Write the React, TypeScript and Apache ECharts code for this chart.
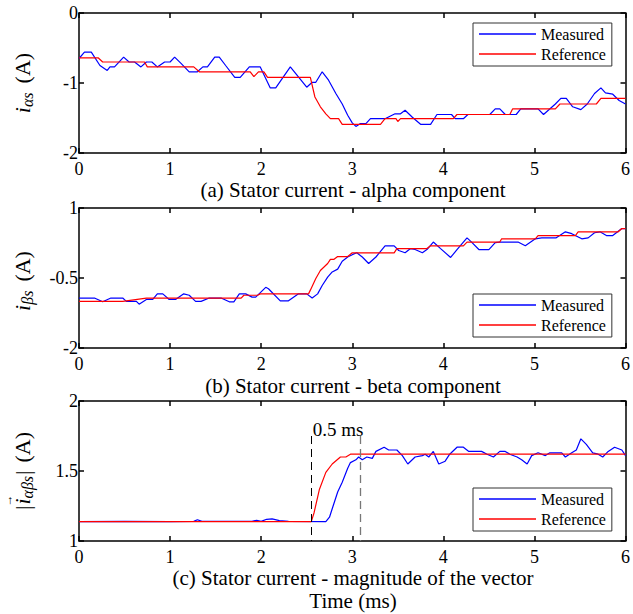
import React, { useEffect, useRef } from "react";
import * as echarts from "echarts";

const FAM = "Liberation Serif";
const FONT = "'Liberation Serif', 'DejaVu Serif', serif";

const xTicks = [0, 1, 2, 3, 4, 5, 6];
const yTicksA = [-2, -1, 0];
const yTicksB = [-2, -0.5, 1];
const yTicksC = [1, 1.5, 2];

const titleA = "(a) Stator current - alpha component";
const titleB = "(b) Stator current - beta component";
const titleC = "(c) Stator current - magnitude of the vector";
const xAxisTitle = "Time (ms)";
const legendNames = ["Measured", "Reference"];
const delayText = "0.5 ms";
const delayStart = 2.55;
const delayEnd = 3.09;
const delayTop = 1.75;

const alphaMeasured: [number, number][] = [
  [0, -0.65], [0.06, -0.56], [0.135, -0.56], [0.23, -0.75], [0.31, -0.82], [0.34, -0.77], [0.39, -0.77],
  [0.49, -0.63], [0.55, -0.7], [0.61, -0.7], [0.68, -0.77], [0.74, -0.7], [0.8, -0.7], [0.86, -0.77],
  [0.94, -0.7], [1.0, -0.7], [1.05, -0.63], [1.12, -0.72], [1.21, -0.84], [1.3, -0.84], [1.36, -0.77],
  [1.41, -0.77], [1.49, -0.63], [1.54, -0.63], [1.61, -0.75], [1.71, -0.92], [1.77, -0.92], [1.87, -0.77],
  [1.99, -0.77], [2.1, -1.07], [2.16, -1.07], [2.32, -0.77], [2.5, -1.06], [2.56, -0.99], [2.6, -0.99],
  [2.67, -0.84], [2.74, -0.96], [2.82, -1.15], [2.89, -1.3], [2.95, -1.46], [3.0, -1.57], [3.04, -1.62],
  [3.09, -1.58], [3.15, -1.58], [3.2, -1.51], [3.36, -1.51], [3.47, -1.44], [3.53, -1.44], [3.58, -1.39],
  [3.66, -1.49], [3.75, -1.59], [3.86, -1.59], [3.93, -1.45], [4.09, -1.45], [4.13, -1.51], [4.22, -1.51],
  [4.27, -1.45], [4.51, -1.45], [4.57, -1.37], [4.62, -1.37], [4.68, -1.45], [4.8, -1.45], [4.85, -1.37],
  [5.04, -1.37], [5.1, -1.45], [5.23, -1.3], [5.29, -1.22], [5.35, -1.22], [5.42, -1.34], [5.51, -1.38],
  [5.58, -1.3], [5.66, -1.15], [5.73, -1.07], [5.78, -1.14], [5.86, -1.16], [5.93, -1.25], [6.0, -1.3],
];

const alphaReference: [number, number][] = [
  [0, -0.64], [0.21, -0.64], [0.26, -0.7], [0.72, -0.7], [0.75, -0.77], [1.26, -0.77], [1.32, -0.84],
  [1.88, -0.84], [1.92, -0.91], [1.97, -0.84], [2.03, -0.84], [2.07, -0.92], [2.54, -0.92], [2.59, -1.2],
  [2.65, -1.34], [2.71, -1.44], [2.76, -1.51], [2.85, -1.51], [2.89, -1.59], [3.31, -1.59], [3.36, -1.51],
  [3.48, -1.51], [3.5, -1.55], [3.53, -1.51], [4.11, -1.51], [4.15, -1.45], [4.73, -1.45], [4.76, -1.37],
  [5.23, -1.37], [5.28, -1.3], [5.68, -1.3], [5.73, -1.22], [6.0, -1.22],
];

const betaMeasured: [number, number][] = [
  [0, -0.93], [0.17, -0.93], [0.26, -1.01], [0.35, -0.93], [0.48, -0.93], [0.52, -1.0], [0.63, -1.0],
  [0.66, -1.06], [0.74, -0.96], [0.81, -0.96], [0.86, -0.84], [0.92, -0.84], [0.99, -0.96], [1.06, -0.96],
  [1.15, -0.84], [1.21, -0.87], [1.28, -1.0], [1.34, -1.0], [1.43, -0.93], [1.56, -0.93], [1.65, -1.01],
  [1.7, -1.01], [1.76, -0.84], [1.83, -0.84], [1.9, -0.91], [1.94, -0.91], [2.05, -0.7], [2.08, -0.73],
  [2.21, -0.99], [2.3, -0.99], [2.41, -0.84], [2.5, -0.84], [2.56, -0.93], [2.62, -0.84], [2.67, -0.66],
  [2.73, -0.48], [2.78, -0.37], [2.84, -0.31], [2.89, -0.14], [2.95, -0.05], [3.0, 0.0], [3.05, 0.04],
  [3.11, -0.05], [3.18, -0.19], [3.26, -0.05], [3.36, 0.19], [3.46, 0.19], [3.51, 0.09], [3.58, 0.04],
  [3.64, 0.13], [3.69, 0.11], [3.77, 0.04], [3.82, 0.11], [3.89, 0.27], [3.97, 0.13], [4.08, -0.06],
  [4.15, 0.11], [4.26, 0.36], [4.31, 0.27], [4.39, 0.11], [4.5, 0.11], [4.57, 0.26], [4.62, 0.27],
  [4.82, 0.27], [4.9, 0.19], [5.01, 0.34], [5.08, 0.36], [5.24, 0.36], [5.34, 0.49], [5.41, 0.45],
  [5.52, 0.34], [5.59, 0.36], [5.66, 0.47], [5.72, 0.49], [5.79, 0.41], [5.86, 0.41], [5.96, 0.56], [6.0, 0.56],
];

const betaReference: [number, number][] = [
  [0, -1.0], [0.48, -1.0], [0.74, -0.93], [1.78, -0.93], [1.81, -0.87], [1.96, -0.87], [1.99, -0.84],
  [2.52, -0.84], [2.54, -0.76], [2.6, -0.51], [2.65, -0.34], [2.73, -0.19], [2.76, -0.1], [2.8, -0.1],
  [2.84, -0.04], [2.95, -0.04], [3.0, 0.04], [3.46, 0.04], [3.49, 0.13], [3.82, 0.13], [3.86, 0.19],
  [4.22, 0.19], [4.26, 0.27], [4.62, 0.27], [4.64, 0.34], [5.01, 0.34], [5.04, 0.41], [5.45, 0.41],
  [5.48, 0.49], [5.92, 0.49], [5.96, 0.56], [6.0, 0.56],
];

const magMeasured: [number, number][] = [
  [0, 1.138], [0.5, 1.14], [1.0, 1.139], [1.26, 1.14], [1.3, 1.152], [1.35, 1.14], [1.9, 1.14],
  [1.95, 1.148], [2.0, 1.14], [2.06, 1.155], [2.12, 1.158], [2.2, 1.145], [2.3, 1.14], [2.71, 1.138],
  [2.75, 1.17], [2.78, 1.23], [2.84, 1.35], [2.89, 1.42], [2.95, 1.52], [2.98, 1.56], [3.04, 1.58],
  [3.07, 1.6], [3.11, 1.58], [3.16, 1.6], [3.22, 1.59], [3.26, 1.64], [3.35, 1.67], [3.4, 1.65],
  [3.49, 1.65], [3.55, 1.61], [3.61, 1.55], [3.69, 1.6], [3.77, 1.61], [3.8, 1.62], [3.84, 1.6],
  [3.89, 1.64], [3.95, 1.55], [4.02, 1.57], [4.07, 1.62], [4.15, 1.67], [4.22, 1.67], [4.28, 1.64],
  [4.42, 1.64], [4.48, 1.62], [4.55, 1.6], [4.62, 1.64], [4.68, 1.64], [4.73, 1.62], [4.81, 1.6],
  [4.86, 1.58], [4.92, 1.55], [4.97, 1.61], [5.04, 1.63], [5.12, 1.61], [5.17, 1.63], [5.25, 1.63],
  [5.3, 1.63], [5.34, 1.6], [5.41, 1.63], [5.46, 1.65], [5.51, 1.73], [5.57, 1.69], [5.64, 1.63],
  [5.7, 1.62], [5.75, 1.6], [5.81, 1.64], [5.88, 1.67], [5.96, 1.65], [6.0, 1.61],
];

const magReference: [number, number][] = [
  [0, 1.138], [2.55, 1.138], [2.58, 1.2], [2.64, 1.37], [2.71, 1.49], [2.78, 1.55], [2.87, 1.6],
  [2.93, 1.6], [2.98, 1.62], [6.0, 1.62],
];

const GRID_LEFT = 79;
const GRID_W = 548;
const GRID_H = 140;
const gridTops = [13, 208, 401];

type Piece = { t?: string; font?: string; dy?: number; gap?: number; arrow?: boolean };

const MAIN = `22px '${FAM}'`;
const MAIN_I = `italic 22px '${FAM}'`;
const SUB_I = `italic 16px '${FAM}'`;

const labelA: Piece[] = [{ t: "i", font: MAIN_I }, { t: "αs", font: SUB_I, dy: 5 }, { gap: 9 }, { t: "(A)", font: MAIN }];
const labelB: Piece[] = [{ t: "i", font: MAIN_I }, { t: "βs", font: SUB_I, dy: 5 }, { gap: 9 }, { t: "(A)", font: MAIN }];
const labelC: Piece[] = [
  { t: "|", font: MAIN }, { gap: 1 }, { t: "i", font: MAIN_I, arrow: true }, { t: "αβs", font: SUB_I, dy: 5 },
  { gap: 1 }, { t: "|", font: MAIN }, { gap: 8 }, { t: "(A)", font: MAIN },
];

function buildLabel(pieces: Piece[], cx: number, cy: number) {
  const ctx = document.createElement("canvas").getContext("2d")!;
  const widths = pieces.map((p) => {
    if (p.gap) return p.gap;
    ctx.font = p.font!;
    return ctx.measureText(p.t!).width;
  });
  const total = widths.reduce((a, b) => a + b, 0);
  let x = -total / 2;
  const children: any[] = [];
  pieces.forEach((p, k) => {
    if (p.t) {
      children.push({
        type: "text", x, y: p.dy || 0,
        style: { text: p.t, font: p.font, fill: "#000", textAlign: "left", textVerticalAlign: "middle" },
      });
      if (p.arrow) {
        children.push({
          type: "text", x: x + widths[k] / 2 + 1, y: -14,
          style: { text: "→", font: `12px '${FAM}'`, fill: "#000", textAlign: "center", textVerticalAlign: "middle" },
        });
      }
    }
    x += widths[k];
  });
  return { type: "group", x: cx, y: cy, rotation: Math.PI / 2, children };
}

function App() {
  const ref = useRef<HTMLDivElement>(null);
  useEffect(() => {
    if (!ref.current) return;
    const chart = echarts.init(ref.current, null, { renderer: "svg" });
    const axisLine = { show: true, onZero: false, lineStyle: { color: "#000", width: 1.5 } };
    const tick = { show: true, inside: true, length: 5, lineStyle: { color: "#000", width: 1.5 } };
    const yDefs = [
      { min: -2, max: 0, ticks: yTicksA },
      { min: -2, max: 1, ticks: yTicksB },
      { min: 1, max: 2, ticks: yTicksC },
    ];
    const grids = gridTops.map((t) => ({ left: GRID_LEFT, top: t, width: GRID_W, height: GRID_H, containLabel: false }));
    const xAxes: any[] = [];
    const yAxes: any[] = [];
    gridTops.forEach((_, i) => {
      xAxes.push({
        type: "value", gridIndex: i, min: 0, max: 6, interval: 1, position: "bottom",
        axisLine, axisTick: tick, splitLine: { show: false },
        axisLabel: { show: true, customValues: xTicks, margin: 7, color: "#000", fontFamily: FONT, fontSize: 18 },
      });
      xAxes.push({
        type: "value", gridIndex: i, min: 0, max: 6, interval: 1, position: "top",
        axisLine, axisTick: tick, splitLine: { show: false }, axisLabel: { show: false },
      });
      const d = yDefs[i];
      yAxes.push({
        type: "value", gridIndex: i, min: d.min, max: d.max, position: "left",
        axisLine, axisTick: { ...tick, customValues: d.ticks }, splitLine: { show: false },
        axisLabel: { show: true, customValues: d.ticks, margin: 1, color: "#000", fontFamily: FONT, fontSize: 18 },
      });
      yAxes.push({
        type: "value", gridIndex: i, min: d.min, max: d.max, position: "right",
        axisLine, axisTick: { ...tick, customValues: d.ticks }, splitLine: { show: false }, axisLabel: { show: false },
      });
    });

    const line = (name: string, data: [number, number][], color: string, gi: number, extra: any = {}) => ({
      type: "line", name, data, xAxisIndex: gi * 2, yAxisIndex: gi * 2, showSymbol: false, symbol: "none",
      lineStyle: { color, width: 1.2 }, itemStyle: { color }, z: color === "#ff0000" ? 3 : 2, ...extra,
    });

    const legend = (top: number) => ({
      orient: "vertical", left: 473, top, icon: "rect", itemWidth: 57, itemHeight: 1.3, itemGap: 2,
      padding: [2, 6, 3, 6], borderColor: "#333", borderWidth: 1, backgroundColor: "#fff",
      textStyle: { fontFamily: FONT, fontSize: 16, color: "#000", lineHeight: 18 }, data: legendNames,
    });

    const titleText = (text: string, y: number) => ({
      type: "text", x: GRID_LEFT + GRID_W / 2, y,
      style: { text, font: `21px ${FONT}`, fill: "#000", textAlign: "center", textVerticalAlign: "middle" },
    });

    chart.setOption({
      animation: false,
      backgroundColor: "#fff",
      grid: grids,
      xAxis: xAxes,
      yAxis: yAxes,
      legend: [legend(23), legend(294), legend(488)],
      series: [
        line("Measured", alphaMeasured, "#0000ff", 0),
        line("Reference", alphaReference, "#ff0000", 0),
        line("Measured", betaMeasured, "#0000ff", 1),
        line("Reference", betaReference, "#ff0000", 1),
        line("Measured", magMeasured, "#0000ff", 2),
        line("Reference", magReference, "#ff0000", 2, {
          markLine: {
            silent: true, symbol: "none", label: { show: false },
            data: [
              [{ coord: [delayStart, delayTop], lineStyle: { color: "#000", type: [8, 5], width: 1 } }, { coord: [delayStart, 1] }],
              [{ coord: [delayEnd, delayTop], lineStyle: { color: "#777", type: [8, 5], width: 1.3 } }, { coord: [delayEnd, 1] }],
            ],
          },
        }),
      ],
      graphic: [
        titleText(titleA, 190),
        titleText(titleB, 386),
        titleText(titleC, 578),
        titleText(xAxisTitle, 601),
        {
          type: "text", x: 338, y: 429,
          style: { text: delayText, font: `19px ${FONT}`, fill: "#000", textAlign: "center", textVerticalAlign: "middle" },
        },
        buildLabel(labelA, 22, 83),
        buildLabel(labelB, 22, 281),
        buildLabel(labelC, 22, 471),
      ],
    });
    return () => chart.dispose();
  }, []);
  return <div ref={ref} style={{ position: "fixed", left: 0, top: 0, width: 633, height: 614 }} />;
}

export default App;
